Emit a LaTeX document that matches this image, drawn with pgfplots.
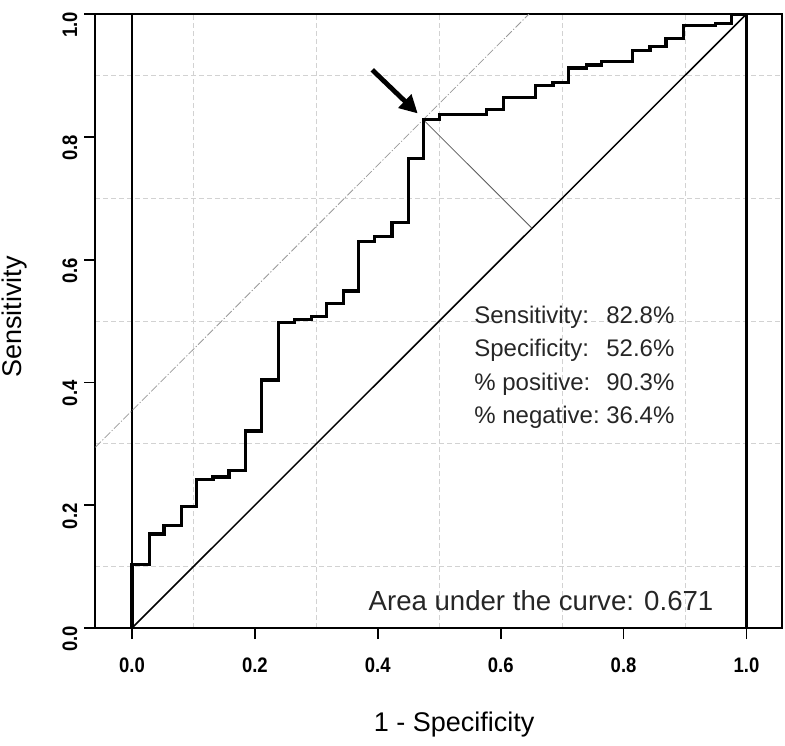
\documentclass[border=0pt]{standalone}
\usepackage{fontspec}
\setmainfont{Liberation Sans}
\newfontfamily\tickfont[FakeStretch=0.88]{Liberation Sans}
\usepackage{pgfplots}
\pgfplotsset{compat=1.18}
\usetikzlibrary{arrows.meta}
\begin{document}
\begin{tikzpicture}
\useasboundingbox (-47.65pt,-58.5pt) rectangle (344.85pt,314pt);
\begin{axis}[
  at={(0pt,0pt)}, anchor=south west,
  scale only axis, width=343.5pt, height=307pt,
  xmin=-0.0597, xmax=1.0583, ymin=0, ymax=1,
  axis line style={line width=1pt},
  xtick={0,0.2,0.4,0.6,0.8,1}, ytick={0,0.2,0.4,0.6,0.8,1},
  minor xtick={0.1,0.3,0.5,0.7,0.9}, minor ytick={0.1,0.3,0.5,0.7,0.9},
  minor tick length=0pt,
  xminorgrids, yminorgrids,
  minor grid style={gray!35, line width=0.35pt, dash pattern=on 2.5pt off 1.5pt},
  tick align=outside, major tick length=5.5pt,
  tick style={black, line width=0.9pt},
  xtick pos=bottom, ytick pos=left,
  /pgf/number format/.cd, fixed, fixed zerofill, precision=1, assume math mode=true,
  /pgfplots/.cd,
  xticklabel style={font=\tickfont\bfseries\fontsize{10.5}{12}\selectfont, yshift=-6pt},
  yticklabel style={font=\tickfont\bfseries\fontsize{10.5}{12}\selectfont, rotate=90, anchor=south, xshift=-5.5pt},
  xlabel={1 - Specificity},
  ylabel={Sensitivity},
  xlabel style={font=\fontsize{13.5}{16}\selectfont, at={(axis description cs:0.5224,-0.1689)}, anchor=base},
  ylabel style={font=\fontsize{13.5}{16}\selectfont, at={(axis description cs:-0.1067,0.5065)}, anchor=base},
]
% reference lines at x=0 and x=1
\addplot[black, line width=1.1pt] coordinates {(0,0) (0,1)};
\addplot[black, line width=1.1pt] coordinates {(1,0) (1,1)};
% chance diagonal
\addplot[black, line width=0.75pt] coordinates {(0,0) (1,1)};
% tangent line through optimal cut-off
\addplot[gray!80, line width=0.4pt, dash pattern=on 4pt off 1pt on 0.6pt off 1pt] coordinates {(-0.0597,0.2943) (0.646,1)};
% perpendicular to diagonal
\addplot[gray!70!black, line width=0.4pt] coordinates {(0.474,0.828) (0.651,0.651)};
% ROC curve
\addplot[black, line width=1.6pt, line join=miter] coordinates {
(0,0) (0,0.104) (0.028,0.104) (0.028,0.153) (0.052,0.153) (0.052,0.167)
(0.080,0.167) (0.080,0.198) (0.105,0.198) (0.105,0.242) (0.132,0.242)
(0.132,0.246) (0.158,0.246) (0.158,0.257) (0.185,0.257) (0.185,0.321)
(0.211,0.321) (0.211,0.404) (0.238,0.404) (0.238,0.497) (0.265,0.497)
(0.265,0.503) (0.292,0.503) (0.292,0.507) (0.316,0.507) (0.316,0.529)
(0.344,0.529) (0.344,0.549) (0.369,0.549) (0.369,0.629) (0.395,0.629)
(0.395,0.637) (0.423,0.637) (0.423,0.661) (0.450,0.661) (0.450,0.765)
(0.474,0.765) (0.474,0.828) (0.501,0.828) (0.501,0.836) (0.577,0.836)
(0.577,0.845) (0.604,0.845) (0.604,0.864) (0.657,0.864) (0.657,0.884)
(0.685,0.884) (0.685,0.889) (0.710,0.889) (0.710,0.912) (0.739,0.912)
(0.739,0.917) (0.764,0.917) (0.764,0.922) (0.815,0.922) (0.815,0.941)
(0.843,0.941) (0.843,0.947) (0.869,0.947) (0.869,0.960) (0.897,0.960)
(0.897,0.981) (0.949,0.981) (0.949,0.985) (0.975,0.985) (0.975,1.0) (1,1)
};
% arrow pointing at optimal cut-off
\draw[black, line width=2.4pt, -{Triangle[length=9pt,width=9pt]}] (axis cs:0.391,0.909) -- (axis cs:0.465,0.838);
% statistics
\begin{scope}[every node/.style={font=\fontsize{12}{14}\selectfont, inner sep=0pt, text=black!85}]
\node[anchor=base west] at (axis cs:0.5565,0.4963) {Sensitivity:};
\node[anchor=base west] at (axis cs:0.5565,0.4417) {Specificity:};
\node[anchor=base west] at (axis cs:0.5565,0.3871) {\% positive:};
\node[anchor=base west] at (axis cs:0.5565,0.3326) {\% negative:};
\node[anchor=base west] at (axis cs:0.7713,0.4963) {82.8\%};
\node[anchor=base west] at (axis cs:0.7713,0.4417) {52.6\%};
\node[anchor=base west] at (axis cs:0.7713,0.3871) {90.3\%};
\node[anchor=base west] at (axis cs:0.7713,0.3326) {36.4\%};
\end{scope}
\node[anchor=base west, inner sep=0pt, font=\fontsize{13.8}{16}\selectfont, text=black!85] at (axis cs:0.3845,0.0282) {Area under the curve: 0.671};
\end{axis}
\end{tikzpicture}
\end{document}
